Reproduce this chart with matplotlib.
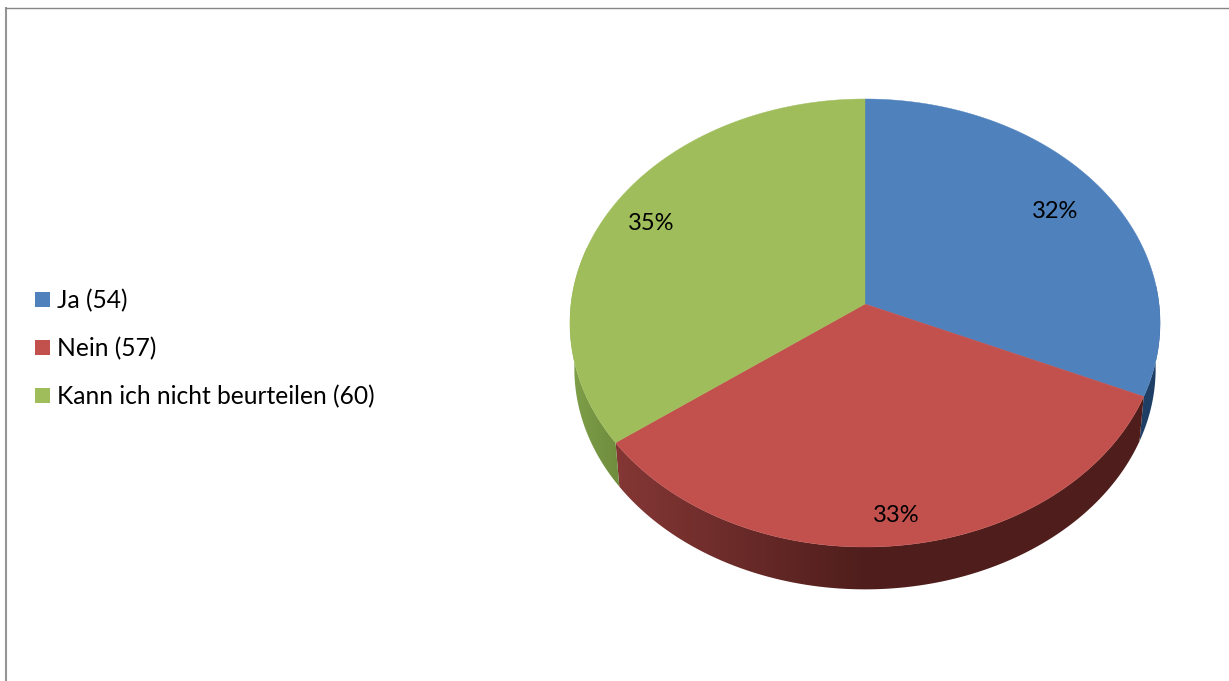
import numpy as np
import matplotlib
matplotlib.use("Agg")
import matplotlib.pyplot as plt
from matplotlib.patches import Polygon, Rectangle
from matplotlib.colors import to_rgb

categories = ["Ja", "Nein", "Kann ich nicht beurteilen"]
counts = [54, 57, 60]
top_colors = ["#4F81BD", "#C2514E", "#9FBE5B"]
label_radii = [0.80, 0.88, 0.84]

W, H = 1229, 681
CX, CY, RX, RY, K = 865.0, 304.0, 294.0, 222.4, 0.0848
DEPTH, SHRINK = 46.0, 0.985

plt.rcParams["font.family"] = ["Lato", "DejaVu Sans"]
fig = plt.figure(figsize=(W / 100, H / 100), dpi=100, facecolor="white")
ax = fig.add_axes([0, 0, 1, 1])
ax.set_xlim(0, W)
ax.set_ylim(H, 0)
ax.axis("off")


def project(t, r=1.0):
    """Pie angle (deg clockwise from top) to canvas position, with perspective."""
    a = np.radians(t)
    u, v = r * np.sin(a), r * np.cos(a)
    den = 1 + K * v
    return CX + RX * u / den, CY - RY * v / den


def project_bottom(t):
    x, y = project(t)
    return CX + (x - CX) * SHRINK, CY + (y - CY) * SHRINK + DEPTH


fractions = np.array(counts) / sum(counts)
edges = np.concatenate([[0], np.cumsum(fractions) * 360])

# rim shading per slice: colour at the slice's left and right canvas limits
rim_stops = [
    ("#1F3F66", "#1F3F66"),
    ("#843735", "#4F1E1C"),
    ("#7F9F49", "#6F8D3E"),
]
rim_ranges = [(85, edges[1]), (edges[1], edges[2]), (edges[2], 285)]

for i, (t0, t1) in enumerate(rim_ranges):
    ts = np.linspace(t0, t1, 240)
    pts = [project(t) for t in ts] + [project_bottom(t) for t in ts[::-1]]
    poly = Polygon(pts, closed=True, facecolor="none", edgecolor="none", transform=ax.transData)
    ax.add_patch(poly)
    xs = np.array([p[0] for p in pts])
    x0, x1 = xs.min(), xs.max()
    left, right = np.array(to_rgb(rim_stops[i][0])), np.array(to_rgb(rim_stops[i][1]))
    # red darkens until the front of the pie, then stays dark
    f = np.linspace(0, 1, 256)
    if i == 1:
        f = np.clip((np.linspace(x0, x1, 256) - x0) / (CX - x0), 0, 1)
    grad = left[None, :] + (right - left)[None, :] * f[:, None]
    im = ax.imshow(grad[None, :, :], extent=(x0, x1, H, 0), aspect="auto", zorder=2,
                   interpolation="bilinear")
    im.set_clip_path(poly)
ax.set_xlim(0, W)
ax.set_ylim(H, 0)

# top surface
for i in range(3):
    ts = np.linspace(edges[i], edges[i + 1], 200)
    pts = [project(t) for t in ts] + [(CX, CY)]
    ax.add_patch(Polygon(pts, closed=True, facecolor=top_colors[i], edgecolor=top_colors[i],
                         lw=0.3, zorder=3))

# percent labels
for i in range(3):
    x, y = project((edges[i] + edges[i + 1]) / 2, label_radii[i])
    ax.text(x, y + 1.5, f"{fractions[i] * 100:.0f}%", ha="center", va="center", fontsize=17,
            color="black", zorder=4)

# legend
for i, (name, n) in enumerate(zip(categories, counts)):
    y = 299 + i * 48
    ax.add_patch(Rectangle((35, y - 7.5), 15, 15, facecolor=top_colors[i], edgecolor="none", zorder=4))
    ax.text(57, y + 1.5, f"{name} ({n})", ha="left", va="center", fontsize=17.7, color="black", zorder=4)

# chart frame
ax.plot([5.5, 5.5], [H, 7], color="#959595", lw=1.5, solid_capstyle="butt", zorder=1)
ax.plot([5, W], [7.5, 7.5], color="#858585", lw=1.0, solid_capstyle="butt", zorder=1)

fig.savefig("out.png", dpi=100, facecolor="white")
